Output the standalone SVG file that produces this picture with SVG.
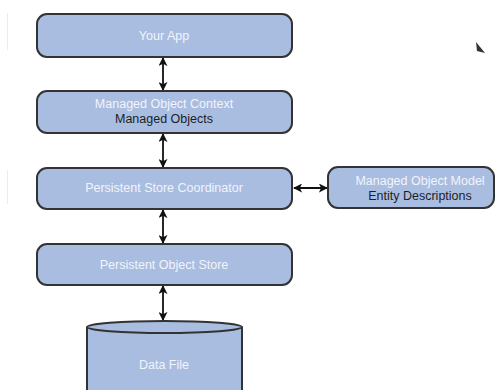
<svg xmlns="http://www.w3.org/2000/svg" width="498" height="390" viewBox="0 0 498 390">
  <defs>
    <marker id="head" viewBox="0 0 10 10" refX="9" refY="5" markerWidth="9" markerHeight="9" markerUnits="userSpaceOnUse" orient="auto-start-reverse">
      <path d="M0,0 L10,5 L0,10 L2.5,5 Z" fill="#111"/>
    </marker>
  </defs>
  <style>
    .box { fill: #a9bde1; stroke: #333; stroke-width: 2; }
    .t { font-family: "Liberation Sans", Arial, sans-serif; font-size: 12.5px; text-anchor: middle; }
    .light { fill: #f1f4fa; }
    .dark { fill: #1e1e24; }
    .link { stroke: #111; stroke-width: 1.8; fill: none; marker-start: url(#head); marker-end: url(#head); }
  </style>
  <rect width="498" height="390" fill="#fff"/>

  <!-- faint margin rules -->
  <line x1="7.5" y1="13" x2="7.5" y2="50" stroke="#ececec" stroke-width="1"/>
  <line x1="7.5" y1="170" x2="7.5" y2="204" stroke="#ececec" stroke-width="1"/>

  <g id="connectors">
    <line class="link" x1="163" y1="58" x2="163" y2="90"/>
    <line class="link" x1="163" y1="134" x2="163" y2="167"/>
    <line class="link" x1="163" y1="210" x2="163" y2="243"/>
    <line class="link" x1="163" y1="286" x2="163" y2="320"/>
    <line class="link" x1="294" y1="188" x2="327" y2="188"/>
  </g>

  <g id="your-app">
    <rect class="box" x="37" y="14" width="255" height="43" rx="10"/>
    <text class="t light" x="164" y="40">Your App</text>
  </g>

  <g id="managed-object-context">
    <rect class="box" x="37" y="91" width="255" height="42" rx="10"/>
    <text class="t light" x="164" y="108">Managed Object Context</text>
    <text class="t dark" x="164" y="123">Managed Objects</text>
  </g>

  <g id="persistent-store-coordinator">
    <rect class="box" x="37" y="168" width="255" height="41" rx="10"/>
    <text class="t light" x="164" y="192">Persistent Store Coordinator</text>
  </g>

  <g id="managed-object-model">
    <rect class="box" x="328" y="167" width="166" height="41" rx="10"/>
    <text class="t light" x="420" y="185">Managed Object Model</text>
    <text class="t dark" x="420" y="200">Entity Descriptions</text>
  </g>

  <g id="persistent-object-store">
    <rect class="box" x="37" y="244" width="255" height="41" rx="10"/>
    <text class="t light" x="164" y="269">Persistent Object Store</text>
  </g>

  <g id="data-file">
    <path class="box" d="M87,327 L87,400 L242,400 L242,327 A77.5,6 0 0 0 87,327 Z"/>
    <path d="M87,327 A77.5,6 0 0 0 242,327" fill="none" stroke="#333" stroke-width="2"/>
    <text class="t light" x="164" y="369">Data File</text>
  </g>

  <!-- pointer -->
  <polygon points="476,42 477,51 485,53" fill="#333"/>
</svg>
